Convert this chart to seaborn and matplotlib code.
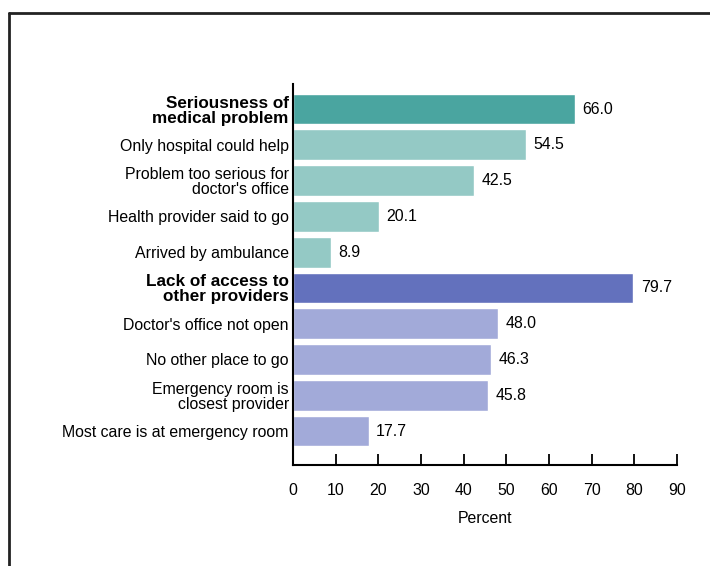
import matplotlib
matplotlib.use("Agg")

import matplotlib.pyplot as plt
import pandas as pd
import seaborn as sns
from matplotlib.lines import Line2D

# ── Data ──
labels = [
    "Seriousness of\nmedical problem",
    "Only hospital could help",
    "Problem too serious for\ndoctor's office",
    "Health provider said to go",
    "Arrived by ambulance",
    "Lack of access to\nother providers",
    "Doctor's office not open",
    "No other place to go",
    "Emergency room is\nclosest provider",
    "Most care is at emergency room",
]
values = [66.0, 54.5, 42.5, 20.1, 8.9, 79.7, 48.0, 46.3, 45.8, 17.7]
is_header = [True, False, False, False, False, True, False, False, False, False]
colors = ["#4aa5a0", "#94c9c5", "#94c9c5", "#94c9c5", "#94c9c5",
          "#6371bd", "#a2aad9", "#a2aad9", "#a2aad9", "#a2aad9"]
xticks = [0, 10, 20, 30, 40, 50, 60, 70, 80, 90]

df = pd.DataFrame({"label": labels, "value": values})

sns.set_theme(style="white")
plt.rcParams["font.family"] = ["Liberation Sans", "DejaVu Sans"]
plt.rcParams["text.color"] = "black"
plt.rcParams["xtick.color"] = "black"
plt.rcParams["ytick.color"] = "black"
plt.rcParams["axes.labelcolor"] = "black"

fig = plt.figure(figsize=(7.1, 5.66), dpi=100)
ax = fig.add_axes([0.4127, 0.1784, 0.5408, 0.6731])

sns.barplot(data=df, x="value", y="label", hue="label", palette=colors,
            legend=False, orient="h", width=0.86, saturation=1, ax=ax)

for i, v in enumerate(values):
    ax.text(v + 1.8, i, f"{v:.1f}", va="center", ha="left", fontsize=11.4, color="black")

ax.set_xlim(0, 90)
ax.set_ylim(9.95, -0.7)
ax.set_xticks(xticks)
ax.set_xticklabels([str(t) for t in xticks], fontsize=11.4)
ax.set_yticks(range(len(labels)))
ax.set_yticklabels(labels, fontsize=11.4)
for tl, hdr in zip(ax.get_yticklabels(), is_header):
    tl.set_linespacing(1.0)
    if hdr:
        tl.set_fontweight("bold")
        tl.set_fontsize(12.3)
ax.set_xlabel("Percent", fontsize=11.4, labelpad=9)
ax.set_ylabel("")
ax.tick_params(axis="x", bottom=True, direction="in", length=8, width=1.3,
               color="black", pad=13)
ax.tick_params(axis="y", left=False, length=0, pad=3)
sns.despine(ax=ax, top=True, right=True)
for s in ["left", "bottom"]:
    ax.spines[s].set_color("black")
    ax.spines[s].set_linewidth(1.5)

# frame lines (left and top) of the original panel
fig.add_artist(Line2D([0.0127, 0.0127], [0.0, 0.977], color="#222222", lw=2, transform=fig.transFigure))
fig.add_artist(Line2D([0.0127, 1.0], [0.977, 0.977], color="#222222", lw=2, transform=fig.transFigure))

fig.savefig("out.png", dpi=100)
